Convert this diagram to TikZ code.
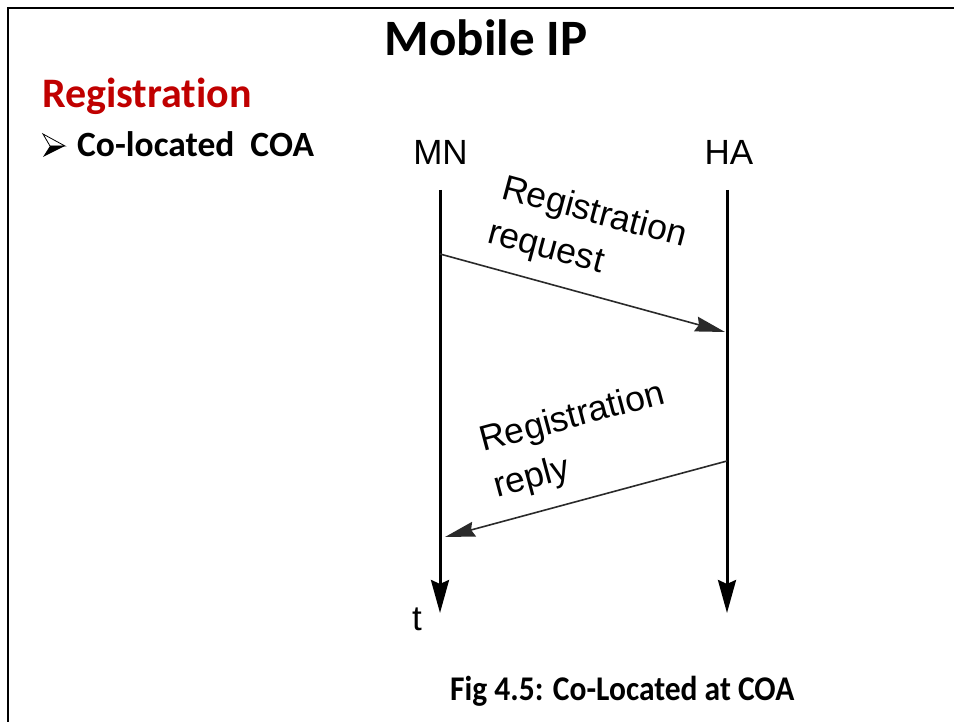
\documentclass[tikz,border=0pt]{standalone}
\usepackage{fontspec}
\setmainfont{Carlito}[Ligatures=NoCommon]
\newfontfamily\diagfont{Liberation Sans}
\usetikzlibrary{arrows.meta}
\definecolor{slidered}{HTML}{C00000}
\definecolor{msggray}{HTML}{2A2A2A}

\begin{document}
\begin{tikzpicture}[x=1pt,y=-1pt,
  lifeline/.style={line width=3pt, -{Stealth[length=33pt,width=18pt,inset=4pt]}},
  message/.style={msggray, line width=1.6pt, -{Stealth[length=30pt,width=15pt,inset=3pt]}},
  actor/.style={font=\diagfont\fontsize{35}{40}\selectfont, inner sep=0pt, anchor=base},
  msglabel/.style={font=\diagfont\fontsize{35.5}{40}\selectfont, inner sep=0pt, anchor=base west},
  slidetext/.style={font=\bfseries, inner sep=0pt},
]
\useasboundingbox (0,0) rectangle (954,722);
\fill[white] (0,0) rectangle (954,722);

% slide frame
\draw[line width=2.5pt] (8,722) -- (8,8) -- (954,8);

% headings
\node[slidetext, anchor=base, font=\bfseries\fontsize{51}{56}\selectfont] (title) at (486,56) {Mobile IP};
\node[slidetext, anchor=base west, text=slidered, font=\bfseries\fontsize{42}{48}\selectfont] (regtitle) at (42,108) {Registration};
\node[slidetext, anchor=base west, font=\bfseries\fontsize{35.5}{40}\selectfont] (coloc) at (77,157) {Co-located\ \ COA};

% bullet
\fill (50,146) -- (65,146) -- (43,157) -- cycle;
\draw[line width=0.8pt, line join=miter] (43,134) -- (65,146) -- (50,146) -- cycle;

% actors
\node[actor] (MN) at (440.5,165) {MN};
\node[actor] (HA) at (729,165) {HA};

\coordinate (mntop) at (440,190);
\coordinate (mnend) at (440,613);
\coordinate (hatop) at (727,190);
\coordinate (haend) at (727,613);

\draw[lifeline] (mntop) -- (mnend);
\draw[lifeline] (hatop) -- (haend);

\node[actor, anchor=base west] (tlabel) at (412,630) {t};

% registration request
\coordinate (reqs) at (440,254);
\coordinate (reqe) at (725,332);
\draw[message] (reqs) -- (reqe);
\node[msglabel, rotate=-15] (reqA) at (500,198) {Registration};
\node[msglabel, rotate=-15] (reqB) at (486,242) {request};

% registration reply
\coordinate (reps) at (727,461);
\coordinate (repe) at (445,537);
\draw[message] (reps) -- (repe);
\node[msglabel, rotate=15] (repA) at (483,452) {Registration};
\node[msglabel, rotate=15] (repB) at (497,498) {reply};

% caption
\node[slidetext, anchor=base west, font=\bfseries\fontsize{31.5}{38}\selectfont] (caption) at (450,700) {\scalebox{1}[1.1]{Fig 4.5: Co-Located at COA}};
\end{tikzpicture}
\end{document}
